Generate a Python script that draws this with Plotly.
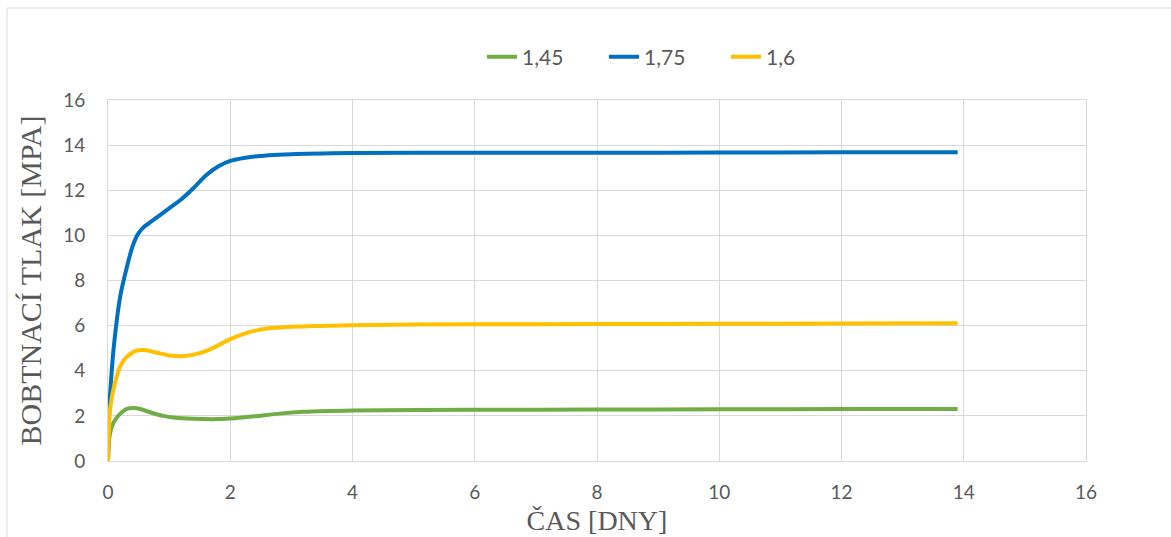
import plotly.graph_objects as go

# Swelling pressure [MPa] over time [days] for three dry densities
t_145 = [0, 0.02, 0.05, 0.1, 0.2, 0.3, 0.4, 0.5, 0.7, 0.9, 1.1, 1.4, 1.7, 2.0, 2.4, 2.8, 3.2, 4, 6, 8, 10, 12, 13.9]
p_145 = [0, 1.0, 1.4, 1.75, 2.1, 2.3, 2.35, 2.33, 2.15, 2.0, 1.92, 1.87, 1.85, 1.88, 1.98, 2.1, 2.18, 2.24, 2.27, 2.28, 2.29, 2.3, 2.3]

t_175 = [0, 0.02, 0.05, 0.1, 0.2, 0.3, 0.4, 0.5, 0.6, 0.8, 1.0, 1.2, 1.4, 1.6, 1.8, 2.0, 2.4, 3.0, 4, 6, 8, 10, 12, 13.9]
p_175 = [0, 2.2, 3.6, 5.2, 7.3, 8.5, 9.5, 10.1, 10.4, 10.8, 11.2, 11.6, 12.1, 12.65, 13.05, 13.3, 13.5, 13.6, 13.65, 13.66, 13.66, 13.67, 13.68, 13.68]

t_160 = [0, 0.03, 0.05, 0.1, 0.2, 0.3, 0.45, 0.6, 0.8, 1.0, 1.25, 1.5, 1.75, 2.0, 2.3, 2.6, 3.0, 4, 6, 8, 10, 12, 13.9]
p_160 = [0, 2.2, 2.6, 3.3, 4.2, 4.6, 4.88, 4.92, 4.8, 4.68, 4.65, 4.78, 5.05, 5.4, 5.7, 5.87, 5.95, 6.02, 6.06, 6.07, 6.08, 6.09, 6.1]

series = [
    ("1,45", t_145, p_145, "#70AD47"),
    ("1,75", t_175, p_175, "#0070C0"),
    ("1,6", t_160, p_160, "#FFC000"),
]

x_ticks = [0, 2, 4, 6, 8, 10, 12, 14, 16]
y_ticks = [0, 2, 4, 6, 8, 10, 12, 14, 16]

fig = go.Figure()
for name, t, p, color in series:
    fig.add_trace(go.Scatter(
        x=t, y=p, name=name, mode="lines",
        line=dict(color=color, width=4, shape="spline", smoothing=0.6),
    ))

W, H = 1171, 537
L, R, T, B = 108, 85, 100, 76
pw, ph = W - L - R, H - T - B


def px_x(p):
    return (p - L) / pw


def px_y(p):
    return (H - B - p) / ph


grid = "#D9D9D9"
tick_font = dict(family="Lato, Open Sans, sans-serif", size=19, color="#595959")
legend_font = dict(family="Lato, Open Sans, sans-serif", size=21, color="#595959")
serif = "Liberation Serif, Times New Roman, serif"

fig.update_layout(
    width=W, height=H,
    margin=dict(l=L, r=R, t=T, b=B),
    paper_bgcolor="white", plot_bgcolor="white",
    legend=dict(orientation="h", x=px_x(482), xanchor="left", y=px_y(57), yanchor="middle",
                font=legend_font, entrywidth=77, entrywidthmode="pixels", traceorder="normal"),
    xaxis=dict(range=[0, 16], tickvals=x_ticks, showgrid=True, gridcolor=grid, gridwidth=1,
               showline=True, linecolor=grid, linewidth=1, mirror=True, zeroline=False,
               automargin=False,
               tickfont=tick_font, ticks="", ticklabelstandoff=14,
               title=dict(text="ČAS [DNY]", font=dict(family=serif, size=28, color="#595959"),
                          standoff=8)),
    yaxis=dict(range=[0, 16], tickvals=y_ticks, showgrid=True, gridcolor=grid, gridwidth=1,
               showline=True, linecolor=grid, linewidth=1, mirror=True, zeroline=False,
               automargin=False,
               tickfont=tick_font, ticks="", ticklabelstandoff=18,
               title=dict(text="BOBTNACÍ TLAK [MPA]", font=dict(family=serif, size=30, color="#595959"),
                          standoff=12)),
    shapes=[dict(type="rect", xref="paper", yref="paper",
                 x0=px_x(7), x1=px_x(1185), y0=px_y(560), y1=px_y(8),
                 line=dict(color=grid, width=1), fillcolor="rgba(0,0,0,0)", layer="below")],
)

fig.write_html("out.html")
